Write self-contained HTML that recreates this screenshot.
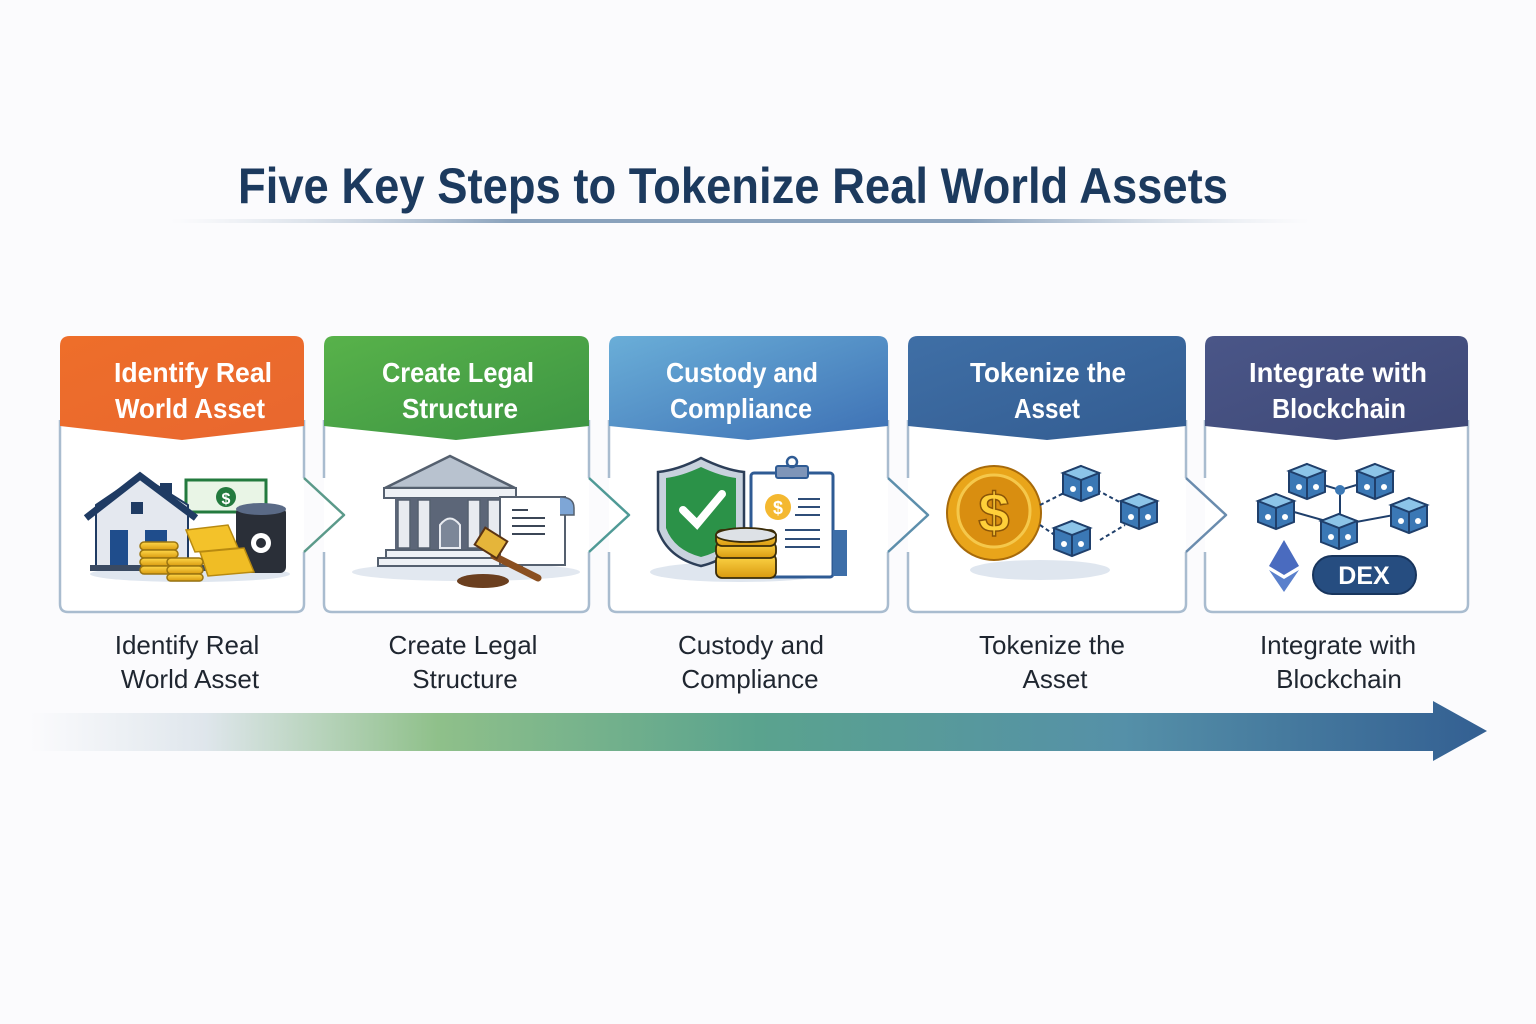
<!DOCTYPE html>
<html><head><meta charset="utf-8"><style>
html,body{margin:0;padding:0;background:#fbfbfd;}
svg{display:block}
text{font-family:"Liberation Sans",sans-serif}
</style></head><body>
<svg width="1536" height="1024" viewBox="0 0 1536 1024" xmlns="http://www.w3.org/2000/svg">
<defs>
<linearGradient id="ul" x1="0" x2="1"><stop offset="0" stop-color="#c9d3de" stop-opacity="0"/><stop offset="0.3" stop-color="#8aa2bc"/><stop offset="0.7" stop-color="#8aa2bc"/><stop offset="1" stop-color="#c9d3de" stop-opacity="0"/></linearGradient>
<linearGradient id="h1" x1="0" y1="0" x2="1" y2="1"><stop offset="0" stop-color="#ee6e2a"/><stop offset="1" stop-color="#e8672f"/></linearGradient>
<linearGradient id="h2" x1="0" y1="0" x2="1" y2="1"><stop offset="0" stop-color="#58b24a"/><stop offset="1" stop-color="#3c9443"/></linearGradient>
<linearGradient id="h3" x1="0" y1="0" x2="1" y2="1"><stop offset="0" stop-color="#6aaed8"/><stop offset="1" stop-color="#3d70b4"/></linearGradient>
<linearGradient id="h4" x1="0" y1="0" x2="1" y2="1"><stop offset="0" stop-color="#3f6fa6"/><stop offset="1" stop-color="#335c91"/></linearGradient>
<linearGradient id="h5" x1="0" y1="0" x2="1" y2="1"><stop offset="0" stop-color="#4a5688"/><stop offset="1" stop-color="#3e4876"/></linearGradient>
<linearGradient id="ar" x1="0" x2="1">
<stop offset="0" stop-color="#fbfbfd"/><stop offset="0.12" stop-color="#dfe6ec"/><stop offset="0.28" stop-color="#8fc08a"/><stop offset="0.5" stop-color="#5aa38e"/><stop offset="0.75" stop-color="#5590a8"/><stop offset="1" stop-color="#335f92"/></linearGradient>
<linearGradient id="gold" x1="0" y1="0" x2="0" y2="1"><stop offset="0" stop-color="#ffd84a"/><stop offset="1" stop-color="#d99a10"/></linearGradient>
<g id="cube"><path d="M0,-14 L18,-7 L18,14 L0,21 L-18,14 L-18,-7Z" fill="#3b78b5" stroke="#1f3f6b" stroke-width="2"/><path d="M0,-14 L18,-7 L0,0 L-18,-7Z" fill="#8cc4e8" stroke="#1f3f6b" stroke-width="2"/><path d="M0,0 V21" stroke="#1f3f6b" stroke-width="2"/><circle cx="-8" cy="9" r="3" fill="#fff"/><circle cx="9" cy="9" r="3" fill="#fff"/></g>
</defs>

<text x="733" y="203" text-anchor="middle" font-size="50" font-weight="bold" fill="#1c3a5e" textLength="990" lengthAdjust="spacingAndGlyphs">Five Key Steps to Tokenize Real World Assets</text>
<rect x="170" y="219" width="1140" height="4" rx="2" fill="url(#ul)"/>

<!-- cards -->
<g fill="#fff" stroke="none">
<rect x="60" y="400" width="244" height="212" rx="8"/>
<rect x="324" y="400" width="265" height="212" rx="8"/>
<rect x="609" y="400" width="279" height="212" rx="8"/>
<rect x="908" y="400" width="278" height="212" rx="8"/>
<rect x="1205" y="400" width="263" height="212" rx="8"/>
</g>
<g fill="none" stroke="#a9bccf" stroke-width="2.5" stroke-linejoin="round">
<path d="M60,420 V604 Q60,612 68,612 H296 Q304,612 304,604 V552 M304,478 V420"/>
<path d="M324,420 V478 M324,552 V604 Q324,612 332,612 H581 Q589,612 589,604 V552 M589,478 V420"/>
<path d="M609,420 V478 M609,552 V604 Q609,612 617,612 H880 Q888,612 888,604 V552 M888,478 V420"/>
<path d="M908,420 V478 M908,552 V604 Q908,612 916,612 H1178 Q1186,612 1186,604 V552 M1186,478 V420"/>
<path d="M1205,420 V478 M1205,552 V604 Q1205,612 1213,612 H1460 Q1468,612 1468,604 V420"/>
</g>
<g fill="none" stroke-width="2.5" stroke-linejoin="round">
<path d="M304,478 L344,515 L304,552" stroke="#5b9a8a"/>
<path d="M589,478 L629,515 L589,552" stroke="#4f9a96"/>
<path d="M888,478 L928,515 L888,552" stroke="#5d8fac"/>
<path d="M1186,478 L1226,515 L1186,552" stroke="#6a8cae"/>
</g>
<!-- headers -->
<path d="M60,346 Q60,336 70,336 H294 Q304,336 304,346 V426 L182,440 L60,426Z" fill="url(#h1)"/>
<path d="M324,346 Q324,336 334,336 H579 Q589,336 589,346 V426 L456,440 L324,426Z" fill="url(#h2)"/>
<path d="M609,346 Q609,336 619,336 H878 Q888,336 888,346 V426 L748,440 L609,426Z" fill="url(#h3)"/>
<path d="M908,346 Q908,336 918,336 H1176 Q1186,336 1186,346 V426 L1047,440 L908,426Z" fill="url(#h4)"/>
<path d="M1205,346 Q1205,336 1215,336 H1458 Q1468,336 1468,346 V426 L1336,440 L1205,426Z" fill="url(#h5)"/>
<g fill="#fff" font-size="28" font-weight="bold" text-anchor="middle">
<text x="193" y="382" textLength="158" lengthAdjust="spacingAndGlyphs">Identify Real</text>
<text x="190" y="418" textLength="150" lengthAdjust="spacingAndGlyphs">World Asset</text>
<text x="458" y="382" textLength="152" lengthAdjust="spacingAndGlyphs">Create Legal</text>
<text x="460" y="418" textLength="116" lengthAdjust="spacingAndGlyphs">Structure</text>
<text x="742" y="382" textLength="152" lengthAdjust="spacingAndGlyphs">Custody and</text>
<text x="741" y="418" textLength="142" lengthAdjust="spacingAndGlyphs">Compliance</text>
<text x="1048" y="382" textLength="156" lengthAdjust="spacingAndGlyphs">Tokenize the</text>
<text x="1047" y="418" textLength="66" lengthAdjust="spacingAndGlyphs">Asset</text>
<text x="1338" y="382" textLength="178" lengthAdjust="spacingAndGlyphs">Integrate with</text>
<text x="1339" y="418" textLength="134" lengthAdjust="spacingAndGlyphs">Blockchain</text>
</g>

<!-- icon 1 -->
<ellipse cx="190" cy="574" rx="100" ry="8" fill="#dfe6ef"/>
<rect x="186" y="480" width="80" height="32" fill="#e9f5e6" stroke="#237a3e" stroke-width="3"/>
<circle cx="226" cy="497" r="10" fill="#237a3e"/><text x="226" y="504" font-size="16" font-weight="bold" fill="#fff" text-anchor="middle">$</text>
<rect x="160" y="483" width="12" height="22" fill="#1f3b63"/>
<path d="M96,505 L140,475 L188,505 V568 H96Z" fill="#e4e8ef" stroke="#1f3b63" stroke-width="2"/>
<path d="M86,518 L140,476 L196,518" fill="none" stroke="#1f3b63" stroke-width="7"/>
<rect x="131" y="502" width="12" height="12" fill="#1f3b63"/>
<rect x="110" y="530" width="18" height="36" fill="#1f4d8c"/>
<rect x="145" y="530" width="22" height="14" fill="#1f4d8c"/>
<rect x="90" y="565" width="120" height="6" fill="#3a4a62"/>
<rect x="236" y="507" width="50" height="66" rx="6" fill="#2a2f38"/><ellipse cx="261" cy="509" rx="25" ry="6" fill="#5a6a86"/>
<circle cx="261" cy="543" r="10" fill="#fff"/><circle cx="261" cy="543" r="5" fill="#2a2f38"/>
<path d="M186,530 L228,525 L238,548 L195,552Z" fill="#f3c22a" stroke="#b88a10" stroke-width="1.5"/>
<path d="M200,552 L244,548 L254,572 L208,576Z" fill="#f0bd25" stroke="#b88a10" stroke-width="1.5"/>
<g fill="url(#gold)" stroke="#9a7410" stroke-width="1.5">
<rect x="140" y="542" width="38" height="8" rx="4"/><rect x="140" y="550" width="38" height="8" rx="4"/><rect x="140" y="558" width="38" height="8" rx="4"/><rect x="140" y="566" width="38" height="8" rx="4"/>
<rect x="167" y="558" width="36" height="8" rx="4"/><rect x="167" y="566" width="36" height="8" rx="4"/><rect x="167" y="574" width="36" height="7" rx="3.5"/>
</g>

<!-- icon 2 -->
<ellipse cx="466" cy="572" rx="114" ry="9" fill="#e2e8f0"/>
<path d="M385,488 L450,456 L515,488Z" fill="#b8c2cf" stroke="#55606f" stroke-width="2.5"/>
<rect x="384" y="488" width="132" height="10" fill="#eef1f5" stroke="#55606f" stroke-width="2"/>
<rect x="395" y="498" width="110" height="52" fill="#5c6678"/>
<g fill="#e8ebf0" stroke="#55606f" stroke-width="1.5"><rect x="398" y="500" width="12" height="48"/><rect x="418" y="500" width="12" height="48"/><rect x="468" y="500" width="12" height="48"/><rect x="488" y="500" width="12" height="48"/></g>
<path d="M440,548 V525 Q450,512 460,525 V548Z" fill="#7c8798" stroke="#e8ebf0" stroke-width="2"/>
<rect x="386" y="550" width="128" height="8" fill="#eef1f5" stroke="#55606f" stroke-width="2"/>
<rect x="378" y="558" width="144" height="8" fill="#eef1f5" stroke="#55606f" stroke-width="2"/>
<path d="M500,497 H565 V565 H500Z" fill="#fff" stroke="#55606f" stroke-width="2"/>
<path d="M560,497 Q574,497 574,508 V515 H560" fill="#7ea6d6" stroke="#55606f" stroke-width="1.5"/>
<g stroke="#3b4656" stroke-width="2"><line x1="512" y1="510" x2="528" y2="510"/><line x1="512" y1="518" x2="545" y2="518"/><line x1="512" y1="526" x2="545" y2="526"/><line x1="512" y1="534" x2="545" y2="534"/></g>
<ellipse cx="483" cy="581" rx="26" ry="7" fill="#6b3f1f"/>
<path d="M494,556 L538,578" stroke="#8a4f20" stroke-width="7" stroke-linecap="round"/>
<rect x="478" y="533" width="26" height="20" fill="#e5b53a" stroke="#5b3413" stroke-width="2" transform="rotate(32 491 543)"/>

<!-- icon 3 -->
<ellipse cx="740" cy="572" rx="90" ry="10" fill="#dfe6ef"/>
<path d="M701,458 Q725,470 744,472 V530 Q735,558 701,566 Q668,558 658,530 V472 Q678,470 701,458Z" fill="#c8d2de" stroke="#2c3e58" stroke-width="2.5"/>
<path d="M701,467 Q720,476 736,478 V528 Q729,550 701,557 Q674,550 666,528 V478 Q682,476 701,467Z" fill="#2b9248"/>
<path d="M683,510 L697,524 L722,494" fill="none" stroke="#fff" stroke-width="8" stroke-linecap="round"/>
<rect x="751" y="473" width="82" height="104" rx="3" fill="#fff" stroke="#2f5b94" stroke-width="3"/>
<rect x="833" y="530" width="14" height="46" fill="#3d6ea8"/>
<rect x="776" y="466" width="32" height="12" rx="2" fill="#7f95b8" stroke="#2f5b94" stroke-width="2"/>
<circle cx="792" cy="462" r="5" fill="none" stroke="#2f5b94" stroke-width="2.5"/>
<circle cx="778" cy="507" r="13" fill="#f4b830"/><text x="778" y="514" font-size="18" font-weight="bold" fill="#fff" text-anchor="middle">$</text>
<g stroke="#2f4e78" stroke-width="2"><line x1="798" y1="499" x2="820" y2="499"/><line x1="798" y1="507" x2="820" y2="507"/><line x1="795" y1="515" x2="820" y2="515"/><line x1="785" y1="530" x2="820" y2="530"/><line x1="785" y1="539" x2="820" y2="539"/><line x1="785" y1="547" x2="820" y2="547"/></g>
<g fill="url(#gold)" stroke="#3a2c08" stroke-width="1.8">
<rect x="716" y="554" width="60" height="24" rx="6"/><rect x="716" y="542" width="60" height="16" rx="6"/><rect x="716" y="530" width="60" height="16" rx="6"/>
</g>
<ellipse cx="746" cy="535" rx="30" ry="7" fill="#dde1e6" stroke="#3a2c08" stroke-width="1.8"/>

<!-- icon 4 -->
<ellipse cx="1040" cy="570" rx="70" ry="10" fill="#dfe6ef"/>
<circle cx="994" cy="513" r="47" fill="#e9a51a" stroke="#a76a0a" stroke-width="2"/>
<circle cx="994" cy="511" r="36" fill="#d98e10" stroke="#f5c84b" stroke-width="3"/>
<text x="994" y="532" font-size="56" font-weight="bold" fill="#ffd03a" stroke="#8a5508" stroke-width="1.5" text-anchor="middle">$</text>
<g stroke="#1f3f6b" stroke-width="2" stroke-dasharray="4,3" fill="none"><path d="M1040,505 L1070,490"/><path d="M1097,490 L1125,505"/><path d="M1100,540 L1125,525"/><path d="M1040,525 L1062,540"/></g>
<use href="#cube" x="1081" y="480"/>
<use href="#cube" x="1139" y="508"/>
<use href="#cube" x="1072" y="535"/>

<!-- icon 5 -->
<g stroke="#1f3f6b" stroke-width="2" fill="none"><path d="M1307,480 L1340,490 L1373,480"/><path d="M1280,508 L1340,525 L1410,512"/><path d="M1340,490 V525"/></g>
<circle cx="1340" cy="490" r="5" fill="#3b78b5"/>
<use href="#cube" x="1307" y="478"/>
<use href="#cube" x="1375" y="478"/>
<use href="#cube" x="1276" y="508"/>
<use href="#cube" x="1409" y="512"/>
<use href="#cube" x="1339" y="528"/>
<path d="M1284,540 L1299,566 L1284,575 L1269,566Z" fill="#4a6bbf"/>
<path d="M1269,570 L1284,579 L1299,570 L1284,592Z" fill="#5a80cc"/>
<rect x="1313" y="556" width="103" height="38" rx="19" fill="#264d80" stroke="#18355d" stroke-width="2"/>
<text x="1364" y="584" font-size="25" font-weight="bold" fill="#fff" text-anchor="middle">DEX</text>

<!-- labels -->
<g font-size="26" fill="#1f2630" text-anchor="middle">
<text x="187" y="654">Identify Real</text><text x="190" y="688">World Asset</text>
<text x="463" y="654">Create Legal</text><text x="465" y="688">Structure</text>
<text x="751" y="654">Custody and</text><text x="750" y="688">Compliance</text>
<text x="1052" y="654">Tokenize the</text><text x="1055" y="688">Asset</text>
<text x="1338" y="654">Integrate with</text><text x="1339" y="688">Blockchain</text>
</g>

<!-- arrow -->
<path d="M30,713 H1433 V701 L1487,731 L1433,761 V751 H30Z" fill="url(#ar)"/>
</svg>
</body></html>
